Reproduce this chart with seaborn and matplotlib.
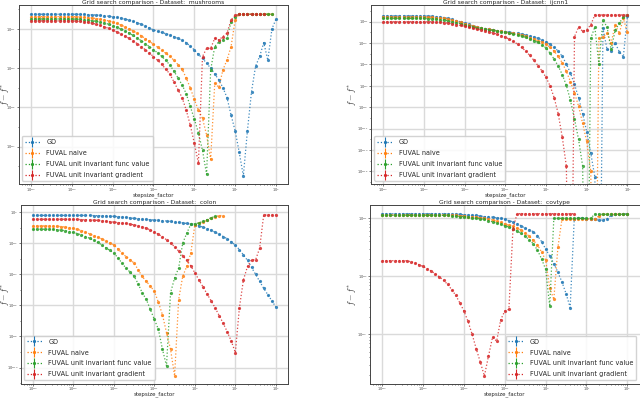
import numpy as np
import matplotlib
matplotlib.use("Agg")
import matplotlib.pyplot as plt
import seaborn as sns
from matplotlib.lines import Line2D
from matplotlib.ticker import LogLocator, NullFormatter

nan = np.nan

# ---------------- data (values are log10 of f - f*) ----------------
stepsize_factor = np.logspace(-4, 2, 61)

series_labels = ["GD", "FUVAL naive", "FUVAL unit invariant func value",
                 "FUVAL unit invariant gradient"]
series_colors = ["#1f77b4", "#ff7f0e", "#2ca02c", "#d62728"]

mushrooms_gd = ([-0.25] * 11 +
                [-0.25, -0.26, -0.26, -0.27, -0.28, -0.29, -0.31, -0.33, -0.35, -0.38] +
                [-0.41, -0.45, -0.50, -0.55, -0.61, -0.68, -0.76, -0.85, -0.95, -1.05] +
                [-1.12, -1.18, -1.24, -1.31, -1.39, -1.48, -1.58, -1.70, -1.88, -2.07] +
                [-2.30, -2.50, -2.75, -3.00, -3.30, -3.60, -4.00, -4.50, -5.40, -6.20] +
                [-7.30, -8.50, -6.20, -4.20, -2.90, -2.40, -1.70, -2.60, -1.00, -0.50])
mushrooms_naive = ([-0.37] * 11 +
                   [-0.38, -0.39, -0.40, -0.42, -0.44, -0.47, -0.50, -0.54, -0.59, -0.65] +
                   [-0.72, -0.80, -0.89, -0.99, -1.10, -1.22, -1.35, -1.49, -1.63, -1.78] +
                   [-1.93, -2.08, -2.24, -2.40, -2.60, -2.82, -3.05, -3.50, -4.00, -4.60] +
                   [-5.13, -5.56, -6.41, -7.65, -3.78, -3.98, -3.09, -2.58, -1.90, -0.54] +
                   [-0.25] * 9 + [nan])
mushrooms_func = ([-0.49] * 11 +
                  [-0.50, -0.51, -0.53, -0.55, -0.58, -0.61, -0.65, -0.70, -0.76, -0.83] +
                  [-0.91, -1.00, -1.10, -1.21, -1.33, -1.46, -1.60, -1.75, -1.90, -2.06] +
                  [-2.22, -2.40, -2.60, -2.84, -3.15, -3.50, -3.85, -4.30, -4.95, -5.60] +
                  [-6.30, -7.20, -8.41, -3.09, -1.90, -1.65, -1.56, -1.48, -0.63, -0.37] +
                  [-0.25] * 9 + [nan])
mushrooms_grad = ([-0.59] * 11 +
                  [-0.60, -0.62, -0.64, -0.67, -0.71, -0.76, -0.82, -0.89, -0.97, -1.06] +
                  [-1.15, -1.25, -1.36, -1.48, -1.61, -1.75, -1.90, -2.06, -2.23, -2.41] +
                  [-2.60, -2.80, -3.05, -3.30, -3.70, -4.10, -4.50, -5.13, -5.90, -6.83] +
                  [-7.85, -2.41, -1.99, -1.99, -1.48, -1.56, -1.39, -1.22, -0.54, -0.30] +
                  [-0.25] * 7 + [nan] * 3)

ijcnn1_gd = ([-0.46] * 11 +
             [-0.47, -0.49, -0.52, -0.56, -0.62, -0.70, -0.79, -0.90, -1.02, -1.14] +
             [-1.26, -1.37, -1.47, -1.56, -1.64, -1.71, -1.77, -1.83, -1.88, -1.93] +
             [-1.98, -2.03, -2.09, -2.16, -2.24, -2.33, -2.43, -2.55, -2.70, -2.87] +
             [-3.12, -3.40, -3.75, -4.25, -4.95, -5.80, -6.85, -8.10, -9.60, -11.30] +
             [-13.30, -15.50, -40.0, -1.60, -3.60, -3.70, -3.00, -3.80, -4.30, -0.50])
ijcnn1_naive = ([-0.58] * 11 +
                [-0.59, -0.60, -0.62, -0.65, -0.70, -0.77, -0.86, -0.96, -1.07, -1.18] +
                [-1.29, -1.39, -1.49, -1.58, -1.66, -1.73, -1.79, -1.85, -1.91, -1.97] +
                [-2.03, -2.10, -2.18, -2.27, -2.37, -2.49, -2.62, -2.77, -2.93, -3.11] +
                [-3.40, -3.75, -4.25, -4.85, -5.65, -6.60, -7.65, -8.90, -10.50, -12.20] +
                [-15.00, -40.0, -2.55, -2.40, -2.10, -3.00, -1.30, -2.10, -0.70, -2.00])
ijcnn1_func = ([-0.70] * 11 +
               [-0.71, -0.73, -0.76, -0.80, -0.85, -0.92, -1.00, -1.09, -1.19, -1.29] +
               [-1.39, -1.48, -1.56, -1.63, -1.70, -1.76, -1.82, -1.88, -1.94, -2.00] +
               [-2.07, -2.15, -2.24, -2.35, -2.47, -2.60, -2.76, -2.93, -3.15, -3.45] +
               [-3.95, -4.50, -5.15, -5.95, -6.95, -8.35, -10.10, -12.00, -14.50, -40.0] +
               [-2.55, -1.50, -5.00, -0.85, -1.50, -3.60, -1.80, -1.15, -0.55, -0.40])
ijcnn1_grad = ([-1.00] * 13 +
               [-1.02, -1.05, -1.09, -1.14, -1.20, -1.27, -1.35, -1.43] +
               [-1.52, -1.60, -1.68, -1.76, -1.85, -1.95, -2.05, -2.17, -2.30, -2.45] +
               [-2.63, -2.85, -3.10, -3.40, -3.75, -4.15, -4.60, -5.10, -5.60, -6.20] +
               [-7.00, -8.10, -9.60, -11.80, -14.50, -40.0, -2.40, -1.50, -1.90, -1.75] +
               [-1.30] + [-0.37] * 9)

colon_gd = ([-0.20] * 15 +
            [-0.21, -0.22, -0.22, -0.23, -0.25, -0.26] +
            [-0.28, -0.30, -0.33, -0.36, -0.39, -0.41, -0.44, -0.46, -0.48, -0.50] +
            [-0.52, -0.54, -0.56, -0.59, -0.62, -0.65, -0.68, -0.72, -0.76, -0.81] +
            [-0.87, -0.95, -1.05, -1.15, -1.28, -1.42, -1.56, -1.70, -1.90, -2.12] +
            [-2.40, -2.75, -3.10, -3.55, -4.00, -4.45, -4.90, -5.30, -5.70, -6.10])
colon_naive = ([-0.88] * 5 +
               [-0.89, -0.90, -0.92, -0.95, -0.99, -1.04] +
               [-1.10, -1.18, -1.28, -1.39, -1.50, -1.60, -1.71, -1.84, -1.97, -2.10] +
               [-2.35, -2.63, -2.85, -3.05, -3.27, -3.70, -4.13, -4.45, -4.75, -5.09] +
               [-5.80, -6.60, -7.76, -8.83, -10.54, -5.62, -4.13, -3.48, -2.63, -0.81] +
               [-0.70, -0.62, -0.52, -0.38, -0.29, -0.21, -0.21, nan, nan, nan] +
               [nan] * 10)
colon_func = ([-1.09] * 5 +
              [-1.10, -1.12, -1.15, -1.19, -1.24, -1.30] +
              [-1.37, -1.46, -1.56, -1.67, -1.80, -1.94, -2.10, -2.28, -2.45, -2.63] +
              [-2.93, -3.27, -3.60, -3.85, -4.13, -4.60, -5.19, -5.60, -6.26, -6.90] +
              [-7.54, -8.83, -9.89, -5.19, -4.23, -3.59, -1.99, -1.35, -0.77, -0.74] +
              [-0.68, -0.58, -0.47, -0.35, -0.26, nan, nan, nan, nan, nan] +
              [nan] * 10)
colon_grad = ([-0.45] * 11 +
              [-0.46, -0.47, -0.48, -0.49, -0.50, -0.52, -0.54, -0.57, -0.60, -0.63] +
              [-0.66, -0.69, -0.72, -0.76, -0.81, -0.87, -0.94, -1.03, -1.13, -1.27] +
              [-1.42, -1.58, -1.77, -1.98, -2.22, -2.50, -2.80, -3.10, -3.45, -3.90] +
              [-4.35, -4.80, -5.25, -5.70, -6.15, -6.65, -7.15, -7.70, -8.30, -9.04] +
              [-6.15, -4.34, -3.49, -3.06, -3.06, -2.31, -0.17, -0.17, -0.17, -0.17])

covtype_gd = ([-0.92] * 17 +
              [-0.93, -0.93, -0.93, -0.94] +
              [-0.94, -0.95, -0.95, -0.96, -0.97, -0.97, -0.98, -0.99, -1.00, -1.02] +
              [-1.04, -1.06, -1.09, -1.13, -1.17, -1.20, -1.23, -1.30, -1.40, -1.53] +
              [-1.65, -1.78, -1.93, -2.10, -2.30, -2.54, -1.01, -1.00, -1.00, -1.01] +
              [-1.01, -1.02, -1.03, -1.03, -1.01, -0.95, -0.93, -0.92, -0.92, -0.92])
covtype_naive = ([-0.94] * 17 +
                 [-0.95, -0.95, -0.96, -0.96] +
                 [-0.97, -0.97, -0.98, -0.99, -1.00, -1.01, -1.03, -1.05, -1.07, -1.10] +
                 [-1.12, -1.14, -1.17, -1.20, -1.25, -1.31, -1.38, -1.46, -1.58, -1.72] +
                 [-2.20, -2.40, -1.50, -1.01, -1.01, -1.01, -1.01, -1.01, -1.01, -1.01] +
                 [-1.01, -1.01, -0.96, -0.93, -0.93, -0.93, -0.93, -0.93, -0.93, -0.93])
covtype_func = ([-0.95] * 17 +
                [-0.96, -0.96, -0.97, -0.97] +
                [-0.98, -0.99, -1.00, -1.01, -1.02, -1.04, -1.06, -1.08, -1.10, -1.13] +
                [-1.15, -1.18, -1.22, -1.26, -1.31, -1.37, -1.44, -1.55, -1.70, -1.88] +
                [-2.52, -1.00, -1.00, -1.00, -1.00, -1.00, -1.00, -1.00, -1.00, -1.00] +
                [-1.00, -0.93, -0.93, -0.93, -0.93, -0.93, -0.93, -0.93, -0.93, -0.93])
covtype_grad = ([-1.73] * 7 +
                [-1.75, -1.77, -1.80, -1.83] +
                [-1.87, -1.91, -1.96, -2.01, -2.07, -2.14, -2.23, -2.33, -2.46, -2.60] +
                [-2.78, -3.00, -3.25, -3.48, -3.72, -3.38, -3.05, -3.12, -2.75, -2.60] +
                [-2.57, -1.18] + [-0.92] * 8 +
                [-0.92] * 7 + [nan] * 3 +
                [nan] * 10)

panels = [
    ("mushrooms", [mushrooms_gd, mushrooms_naive, mushrooms_func, mushrooms_grad],
     (-8.91, 0.22), [-1, -3, -5, -7], "lower left",
     [18.75 / 640, 1 - 184 / 399, 269.5 / 640, 179 / 399], -0.030),
    ("ijcnn1", [ijcnn1_gd, ijcnn1_naive, ijcnn1_func, ijcnn1_grad],
     (-16.18, 0.56), [-1, -3, -5, -7, -9, -11, -13, -15], "lower left",
     [371.0 / 640, 1 - 184 / 399, 268.6 / 640, 179 / 399], -0.050),
    ("colon", [colon_gd, colon_naive, colon_func, colon_grad],
     (-11.03, 0.47), [0, -2, -4, -6, -8, -10], "lower left",
     [20.7 / 640, 1 - 383.5 / 399, 267.3 / 640, 178.5 / 399], -0.038),
    ("covtype", [covtype_gd, covtype_naive, covtype_func, covtype_grad],
     (-3.85, -0.77), [-1, -2, -3], "lower right",
     [370.0 / 640, 1 - 383.5 / 399, 269.6 / 640, 178.5 / 399], -0.046),
]

# ---------------- style ----------------
sns.set_theme(style="whitegrid")
plt.rcParams["font.family"] = ["DejaVu Sans"]
plt.rcParams["mathtext.fontset"] = "cm"

fig = plt.figure(figsize=(6.4, 3.99), dpi=100)

for name, ys, ylim_exp, yt_exp, loc, rect, ylab_x in panels:
    ax = fig.add_axes(rect)
    ax.set_xscale("log")
    ax.set_yscale("log")
    for vals, color in zip(ys, series_colors):
        yv = 10.0 ** np.asarray(vals, dtype=float)
        sns.lineplot(x=stepsize_factor, y=yv, ax=ax, color=color, marker="o",
                     markersize=2.3, markeredgewidth=0, linestyle=":",
                     linewidth=0.9, alpha=0.85, estimator=None, errorbar=None,
                     sort=False, legend=False)
    ax.set_xlim(10 ** -4.3, 10 ** 2.3)
    ax.set_ylim(10 ** ylim_exp[0], 10 ** ylim_exp[1])
    ax.set_xticks([10.0 ** k for k in range(-4, 3)])
    ax.set_yticks([10.0 ** k for k in yt_exp])
    if name != "covtype":
        ax.yaxis.set_minor_locator(LogLocator(base=10, subs=(1.0,), numticks=100))
    ax.yaxis.set_minor_formatter(NullFormatter())
    ax.xaxis.set_minor_formatter(NullFormatter())
    ax.grid(True, which="major", color="#dadada", linewidth=1.0)
    ax.grid(False, which="minor")
    for sp in ax.spines.values():
        sp.set_color("#444444")
        sp.set_linewidth(0.7)
    ax.tick_params(which="both", bottom=True, left=True, colors="#444444",
                   labelsize=2.5, width=0.5)
    ax.tick_params(axis="x", pad=0.2)
    ax.tick_params(axis="y", pad=0.5)
    ax.tick_params(which="major", length=1.4)
    ax.tick_params(which="minor", length=0.9)
    ax.set_title("Grid search comparison - Dataset:  " + name, fontsize=4.3, pad=0.6)
    ax.set_xlabel("stepsize_factor", fontsize=4.0)
    ax.xaxis.set_label_coords(0.5, -8.0 / 179)
    ax.set_ylabel(r"$f - f^{*}$", fontsize=6.0)
    ax.yaxis.set_label_coords(ylab_x, 0.5)

    handles = [(Line2D([], [], color=c, ls=":", lw=0.9, marker="o", ms=2.3, mew=0),
                Line2D([], [], color=c, ls="none", marker="|", ms=7, mew=0.8))
               for c in series_colors]
    ax.legend(handles, series_labels, loc=loc, fontsize=4.7, handlelength=2.3,
              handletextpad=1.0, labelspacing=0.75, frameon=True, fancybox=True,
              framealpha=0.85, edgecolor="#cccccc", borderpad=0.45)

fig.savefig("out.png", dpi=100)
